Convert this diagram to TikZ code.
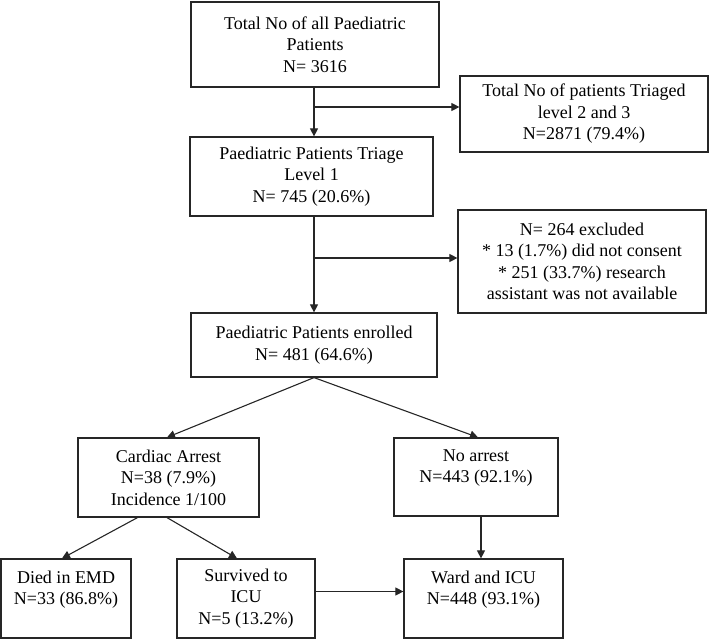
\documentclass[tikz,border=0pt]{standalone}
\usepackage{fontspec}
\setmainfont{Liberation Serif}
\usetikzlibrary{arrows.meta}
\begin{document}
\begin{tikzpicture}[x=1pt,y=1pt,
  box/.style={draw=black!85, line width=1.2pt, align=center, inner sep=0pt,
    font=\fontsize{18}{21.5}\selectfont},
  conn/.style={draw=black!85, line width=1.1pt},
  arr/.style={conn, -{Triangle[length=8pt,width=8pt]}}]
\useasboundingbox (0,0) rectangle (712,-639);
\node[box, minimum width=248pt, minimum height=85pt] (top) at (315,-44.5)
  {Total No of all Paediatric\\Patients\\N= 3616};
\node[box, minimum width=248pt, minimum height=76pt] (lvl23) at (584,-114)
  {Total No of patients Triaged\\level 2 and 3\\N=2871 (79.4\%)};
\node[box, minimum width=243pt, minimum height=79pt] (triage) at (311.5,-176.5)
  {Paediatric Patients Triage\\Level 1\\N= 745 (20.6\%)};
\node[box, minimum width=248pt, minimum height=103pt] (excl) at (582,-261.5)
  {N= 264 excluded\\* 13 (1.7\%) did not consent\\* 251 (33.7\%) research\\assistant was not available};
\node[box, minimum width=246pt, minimum height=64pt] (enr) at (314,-345)
  {Paediatric Patients enrolled\\N= 481 (64.6\%)};
\node[box, minimum width=181pt, minimum height=79pt] (card) at (168.5,-477.5)
  {Cardiac Arrest\\N=38 (7.9\%)\\Incidence 1/100};
\node[box, minimum width=164pt, minimum height=78pt] (noarr) at (476,-477)
  {No arrest\\N=443 (92.1\%)\\\mbox{}};
\node[box, minimum width=130pt, minimum height=79pt] (died) at (66,-598.5)
  {Died in EMD\\N=33 (86.8\%)\\\mbox{}};
\node[box, minimum width=138pt, minimum height=79pt] (surv) at (246,-598.5)
  {Survived to\\ICU\\N=5 (13.2\%)};
\node[box, minimum width=159pt, minimum height=79pt] (ward) at (483.5,-598.5)
  {Ward and ICU\\N=448 (93.1\%)\\\mbox{}};
% vertical trunk
\coordinate (b1) at (314,-107);
\coordinate (b2) at (314,-258);
\draw[arr] ([xshift=-1pt]top.south) -- ([xshift=2.5pt]triage.north);
\draw[arr] (b1) -- (b1 -| lvl23.west);
\draw[arr] ([xshift=2.5pt]triage.south) -- (enr.north);
\draw[arr] (b2) -- (b2 -| excl.west);
\draw[arr] (enr.south) -- ([xshift=-1.5pt]card.north);
\draw[arr] (enr.south) -- ([xshift=2pt]noarr.north);
\draw[arr] ([xshift=-31pt]card.south) -- ([xshift=-4pt]died.north);
\draw[arr] ([xshift=-1.5pt]card.south) -- ([xshift=-9pt]surv.north);
\draw[arr] ([xshift=5pt]noarr.south) -- ([xshift=-2.5pt]ward.north);
\draw[arr] ([yshift=7pt]surv.east) -- ([yshift=7pt]surv.east -| ward.west);
\end{tikzpicture}
\end{document}
